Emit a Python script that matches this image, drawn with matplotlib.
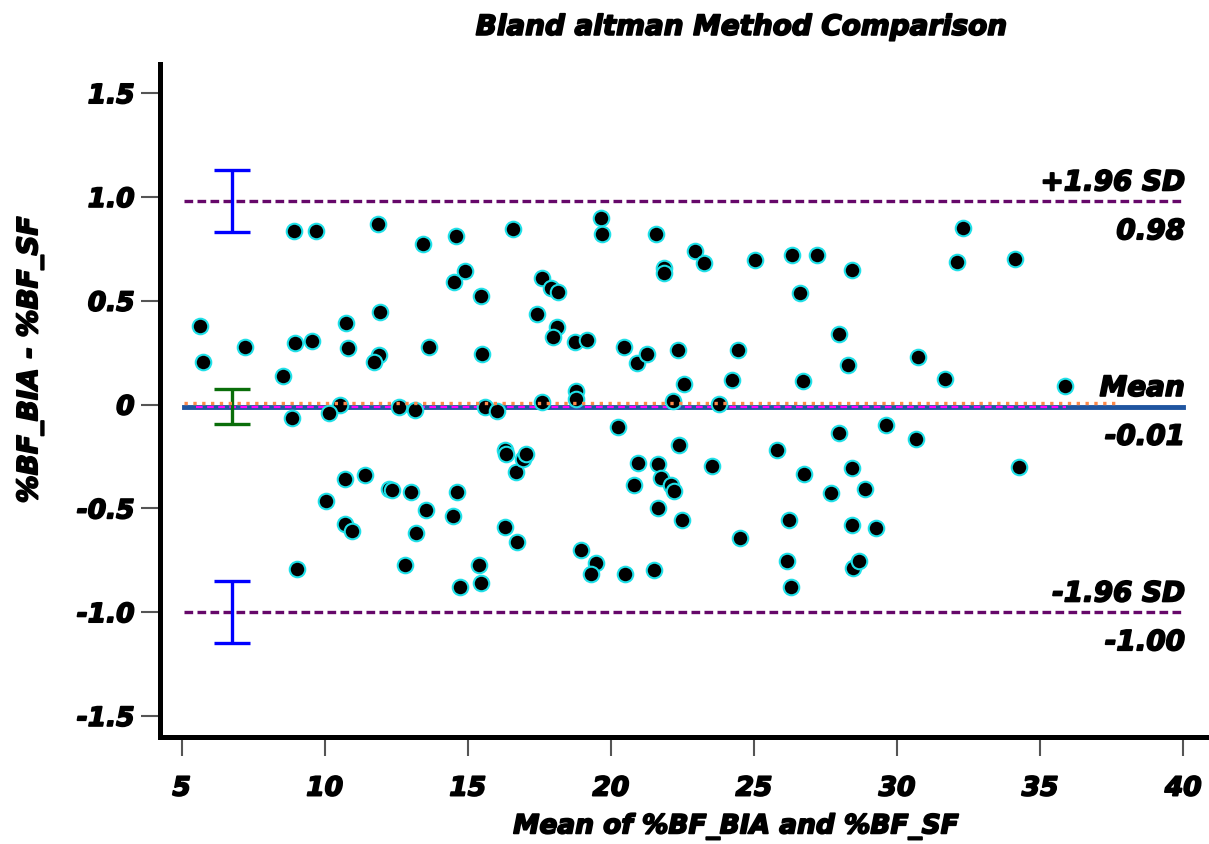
import numpy as np
import matplotlib
matplotlib.use("Agg")
import matplotlib.pyplot as plt
import matplotlib.patheffects as pe

# mean of the two methods (x) and their difference (y)
mean_vals = [5.63, 5.73, 7.20, 8.53, 8.92, 9.69, 8.95, 9.55, 8.85, 9.02,
             10.73, 10.80, 10.52, 10.14, 10.03, 10.70, 10.70, 10.94, 11.40, 11.85,
             11.92, 11.89, 11.71, 12.24, 12.34, 12.59, 13.01, 12.80, 13.15, 13.18,
             13.43, 13.64, 13.53, 14.48, 14.62, 14.72, 14.58, 14.51, 14.90, 15.45,
             15.49, 15.59, 15.38, 15.45, 16.01, 16.29, 16.33, 16.57, 16.29, 16.71,
             16.68, 16.92, 17.03, 17.41, 17.59, 17.59, 17.90, 18.15, 18.11, 17.97,
             18.74, 18.78, 18.78, 19.16, 18.95, 19.48, 19.30, 19.65, 19.69, 20.24,
             20.45, 20.49, 20.91, 20.94, 20.80, 21.26, 21.57, 21.64, 21.64, 21.50,
             21.75, 21.85, 21.85, 22.10, 22.20, 22.17, 22.34, 22.38, 22.55, 22.48,
             22.94, 23.25, 23.53, 23.78, 24.23, 24.44, 24.51, 25.03, 25.80, 26.15,
             26.22, 26.29, 26.33, 26.61, 26.71, 26.75, 27.20, 27.69, 27.97, 27.97,
             28.29, 28.43, 28.43, 28.43, 28.46, 28.67, 28.88, 29.27, 29.62, 30.66,
             30.73, 31.68, 32.10, 32.31, 34.13, 34.27, 35.87]
diff_vals = [0.380, 0.207, 0.279, 0.139, 0.837, 0.837, 0.298, 0.308, -0.067, -0.793,
             0.394, 0.274, 0.000, -0.043, -0.466, -0.361, -0.577, -0.611, -0.341, 0.870,
             0.447, 0.240, 0.207, -0.409, -0.413, -0.014, -0.423, -0.774, -0.024, -0.620,
             0.774, 0.279, -0.510, -0.538, -0.423, -0.880, 0.813, 0.591, 0.644, 0.524,
             0.245, -0.010, -0.774, -0.861, -0.029, -0.221, -0.236, 0.846, -0.591, -0.663,
             -0.327, -0.264, -0.236, 0.438, 0.611, 0.014, 0.563, 0.543, 0.375, 0.327,
             0.303, 0.067, 0.029, 0.313, -0.702, -0.764, -0.817, 0.899, 0.822, -0.106,
             0.279, -0.817, 0.202, -0.284, -0.389, 0.245, 0.822, -0.288, -0.500, -0.798,
             -0.356, 0.659, 0.635, -0.389, -0.418, 0.019, 0.264, -0.197, 0.101, -0.558,
             0.740, 0.683, -0.298, 0.002, 0.120, 0.264, -0.644, 0.697, -0.221, -0.755,
             -0.558, -0.880, 0.721, 0.538, 0.115, -0.337, 0.721, -0.428, 0.341, -0.135,
             0.192, 0.649, -0.308, -0.582, -0.788, -0.755, -0.409, -0.596, -0.101, -0.168,
             0.231, 0.125, 0.688, 0.851, 0.702, -0.303, 0.091]

# bland-altman summary values
mean_diff = -0.01
upper_loa = 0.98
lower_loa = -1.00
mean_ci = 0.085
loa_ci = 0.148

x_ticks = [5, 10, 15, 20, 25, 30, 35, 40]
y_ticks = [-1.5, -1.0, -0.5, 0, 0.5, 1.0, 1.5]
y_tick_labels = ["-1.5", "-1.0", "-0.5", "0", "0.5", "1.0", "1.5"]

# heavy look: bold italic plus a thin stroke round the glyphs
HEAVY = [pe.withStroke(linewidth=1.3, foreground="black")]
FONT = dict(family="DejaVu Sans", weight="bold", style="italic", path_effects=HEAVY)

fig = plt.figure(figsize=(12.09, 8.45), dpi=100)
ax = fig.add_axes([0.132, 0.127, 0.868, 0.796])

x0, x1 = 5.1, 40.0
ax.plot([x0, x1], [upper_loa, upper_loa], color="#66086a", lw=2.4,
        dashes=(2.6, 1.3), zorder=2)
ax.plot([x0, x1], [lower_loa, lower_loa], color="#66086a", lw=2.4,
        dashes=(2.6, 1.3), zorder=2)
ax.plot([x0, x1], [mean_diff, mean_diff], color="#1f55a0", lw=3.5, zorder=2)
ax.plot([5.5, 35.9], [mean_diff - 0.004, mean_diff - 0.004], color="#ff00ff",
        lw=1.6, dashes=(3, 2), zorder=2)
ax.plot([x0, 37.8], [0.008, 0.008], color="#ff8a4a", lw=2.4, ls=":", zorder=4)

ax.scatter(mean_vals, diff_vals, s=125, c="black", edgecolors="#20e0e8",
           linewidths=1.5, zorder=3)

ci_x = 6.75
ax.errorbar([ci_x], [upper_loa], yerr=[loa_ci], fmt="none", ecolor="#0000ff",
            elinewidth=2.4, capsize=13, capthick=2.4, zorder=3)
ax.errorbar([ci_x], [lower_loa], yerr=[loa_ci], fmt="none", ecolor="#0000ff",
            elinewidth=2.4, capsize=13, capthick=2.4, zorder=3)
ax.errorbar([ci_x], [mean_diff], yerr=[mean_ci], fmt="none", ecolor="#0a6e0a",
            elinewidth=2.4, capsize=13, capthick=2.4, zorder=3)

# labels at right end of lines
for val, name in [(upper_loa, "+1.96 SD"), (mean_diff, "Mean"), (lower_loa, "-1.96 SD")]:
    ax.text(40.05, val + 0.09, name, ha="right", va="center", fontsize=20, **FONT)
    ax.text(40.05, val - 0.145, "{:.2f}".format(val), ha="right", va="center",
            fontsize=20, **FONT)

ax.set_xlim(4.23, 40.9)
ax.set_ylim(-1.6, 1.64)
ax.set_xticks(x_ticks)
ax.set_yticks(y_ticks)
ax.set_yticklabels(y_tick_labels)
for lab in ax.get_xticklabels() + ax.get_yticklabels():
    lab.set_fontsize(19)
    lab.set_fontweight("bold")
    lab.set_fontstyle("italic")
    lab.set_path_effects(HEAVY)

ax.spines["top"].set_visible(False)
ax.spines["right"].set_visible(False)
ax.spines["left"].set_linewidth(3.6)
ax.spines["bottom"].set_linewidth(3.6)
ax.tick_params(axis="both", direction="out", length=14, width=1.5, color="#555555")
ax.tick_params(axis="x", pad=14)
ax.tick_params(axis="y", pad=4)

ax.set_xlabel("Mean of %BF_BIA and %BF_SF", fontsize=19, **FONT)
ax.set_ylabel("%BF_BIA - %BF_SF", fontsize=20, **FONT)
ax.xaxis.set_label_coords(0.549, -0.114)
ax.yaxis.set_label_coords(-0.11, 0.56)
fig.text(0.613, 0.967, "Bland altman Method Comparison", ha="center", va="center",
         fontsize=20, **FONT)

fig.savefig("out.png", dpi=100)
